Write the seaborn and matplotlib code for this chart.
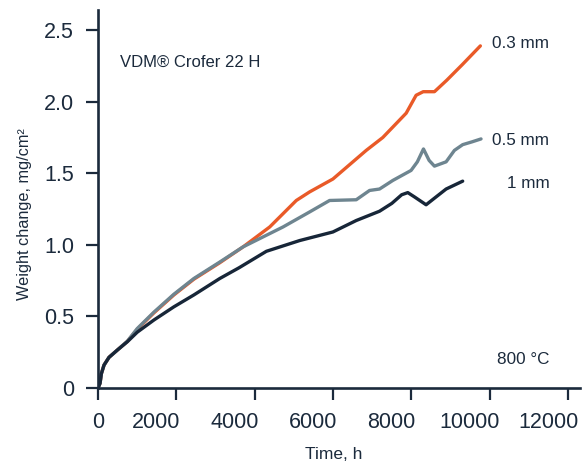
import pandas as pd
import matplotlib
matplotlib.use('Agg')
import matplotlib.pyplot as plt
import matplotlib.transforms as mtransforms
import seaborn as sns

# Weight change vs. time
t_03 = [0, 51, 85, 153, 280, 493, 748, 1000, 1427, 1936, 2446, 3108, 3703, 4382,
        5060, 5401, 5995, 6845, 7268, 7865, 8118, 8300, 8586, 8900, 9300, 9758]
w_03 = [0, 0.033, 0.10, 0.16, 0.214, 0.265, 0.325, 0.41, 0.525, 0.65, 0.76, 0.875, 0.986,
        1.125, 1.31, 1.37, 1.46, 1.66, 1.75, 1.92, 2.045, 2.07, 2.07, 2.15, 2.26, 2.39]

t_05 = [0, 51, 85, 153, 280, 493, 748, 1000, 1427, 1936, 2446, 3108, 3703, 4722,
        5401, 5910, 6590, 6930, 7185, 7524, 7990, 8150, 8306, 8450, 8586, 8884,
        9096, 9307, 9550, 9775]
w_05 = [0, 0.033, 0.10, 0.16, 0.214, 0.265, 0.327, 0.415, 0.53, 0.655, 0.765, 0.88, 0.986,
        1.125, 1.23, 1.31, 1.315, 1.38, 1.39, 1.45, 1.52, 1.58, 1.67, 1.59, 1.55, 1.58,
        1.66, 1.70, 1.72, 1.74]

t_1 = [0, 51, 85, 153, 280, 493, 748, 1002, 1427, 1936, 2446, 3108, 3600, 4297,
       5146, 5995, 6590, 7185, 7500, 7750, 7906, 8076, 8373, 8628, 8884, 9307]
w_1 = [0, 0.033, 0.10, 0.16, 0.214, 0.265, 0.323, 0.39, 0.475, 0.567, 0.65, 0.765, 0.84,
       0.955, 1.03, 1.09, 1.17, 1.235, 1.29, 1.35, 1.365, 1.335, 1.28, 1.335, 1.39, 1.445]

thickness = ['0.3 mm', '0.5 mm', '1 mm']
x_ticks = [0, 2000, 4000, 6000, 8000, 10000, 12000]
y_ticks = [0, 0.5, 1.0, 1.5, 2.0, 2.5]
y_tick_labels = ['0', '0.5', '1.0', '1.5', '2.0', '2.5']

df = pd.concat([
    pd.DataFrame({'time': t_03, 'weight': w_03, 'thickness': thickness[0]}),
    pd.DataFrame({'time': t_05, 'weight': w_05, 'thickness': thickness[1]}),
    pd.DataFrame({'time': t_1, 'weight': w_1, 'thickness': thickness[2]}),
])

sns.set_style('ticks')
plt.rcParams['font.family'] = ['Liberation Sans', 'DejaVu Sans']
navy = '#1b2a3c'
palette = {'0.3 mm': '#e95a28', '0.5 mm': '#6e8590', '1 mm': '#172638'}

fig = plt.figure(figsize=(5.87, 4.70), dpi=100)
ax = fig.add_axes([0.167, 0.1745, 0.821, 0.804])

sns.lineplot(data=df, x='time', y='weight', hue='thickness', hue_order=thickness,
             palette=palette, linewidth=2.4, legend=False, ax=ax)

ax.set_xlim(0, 12300)
ax.set_ylim(0, 2.64)
ax.set_xticks(x_ticks)
ax.set_xticklabels([str(v) for v in x_ticks])
ax.set_yticks(y_ticks)
ax.set_yticklabels(y_tick_labels)
ax.tick_params(axis='both', direction='out', length=8.3, width=1.6, color=navy,
               labelsize=15.5, labelcolor=navy, bottom=True, left=True)
ax.tick_params(axis='y', pad=9)
ax.tick_params(axis='x', pad=9)

# the x labels in the original sit a little left of their tick marks
shift = mtransforms.ScaledTranslation(-0.2, 0, fig.dpi_scale_trans)
for lab in ax.get_xticklabels()[1:]:
    lab.set_transform(lab.get_transform() + shift)

sns.despine(ax=ax)
for side in ['left', 'bottom']:
    ax.spines[side].set_color(navy)
    ax.spines[side].set_linewidth(1.9)

ax.set_xlabel('Time, h', fontsize=12.5, color=navy)
ax.xaxis.set_label_coords(0.49, -0.157)
ax.set_ylabel('Weight change, mg/cm²', fontsize=11.7, color=navy)
ax.yaxis.set_label_coords(-0.138, 0.46)

ax.text(560, 2.275, 'VDM® Crofer 22 H', fontsize=12, color=navy, va='center')
ax.text(10050, 2.41, '0.3 mm', fontsize=12.3, color=navy, va='center')
ax.text(10050, 1.73, '0.5 mm', fontsize=12.3, color=navy, va='center')
ax.text(11530, 1.43, '1 mm', fontsize=12.3, color=navy, va='center', ha='right')
ax.text(11530, 0.2, '800 °C', fontsize=12.3, color=navy, va='center', ha='right')

fig.savefig('out.png', dpi=100)
